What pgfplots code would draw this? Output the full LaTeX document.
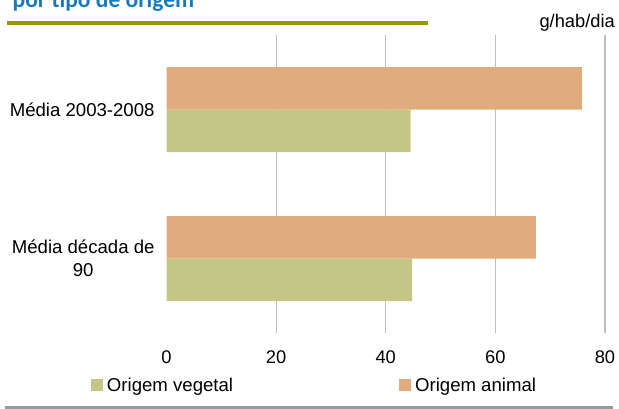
\documentclass[border=0pt]{standalone}
\usepackage{fontspec}
\setmainfont{Liberation Sans}
\newfontfamily\titlefont{Carlito}
\usepackage{pgfplots}
\pgfplotsset{compat=1.18}
\definecolor{animal}{HTML}{E0AC7E}
\definecolor{vegetal}{HTML}{C4C685}
\definecolor{gridgray}{HTML}{BFBFBF}
\definecolor{titleblue}{HTML}{1A7AB8}
\definecolor{oliveline}{HTML}{949A00}
\definecolor{botline}{HTML}{9A9A9A}
\begin{document}
\begin{tikzpicture}
\useasboundingbox (0,0) rectangle (619bp,-409bp);
\node[anchor=base west, inner sep=0pt, text=titleblue, font=\titlefont\bfseries\fontsize{23.5bp}{28bp}\selectfont] at (12.5bp,-7bp) {por tipo de origem};
\draw[oliveline, line width=4bp] (7bp,-23bp) -- (428bp,-23bp);
\node[anchor=base east, inner sep=0pt, font=\fontsize{18.3bp}{22bp}\selectfont] at (615bp,-27.3bp) {g/hab/dia};
\draw[botline, line width=3bp] (5bp,-407.5bp) -- (613bp,-407.5bp);
\begin{axis}[
  at={(166.5bp,-333bp)}, anchor=south west,
  scale only axis, width=438.5bp, height=297.7bp,
  xbar, bar width=42.5bp,
  xmin=0, xmax=80, ymin=-0.5, ymax=1.5,
  xtick={20,40,60,80},
  extra x ticks={0}, extra x tick style={xmajorgrids=false},
  ytick={0,1},
  yticklabels={{Média década de\\90},{Média 2003-2008}},
  axis line style={draw=none}, tick style={draw=none},
  xmajorgrids, grid style={draw=gridgray, line width=1.2bp},
  /pgf/number format/assume math mode=true,
  xticklabel style={anchor=base, yshift=-30.5bp, font=\fontsize{18.3bp}{22bp}\selectfont},
  yticklabel style={align=center, xshift=-7.5bp, inner sep=0pt, font=\fontsize{18.6bp}{23bp}\selectfont},
  legend columns=2,
  legend style={draw=none, fill=none, inner sep=0pt, outer sep=0pt,
    at={(axis description cs:-0.1722,-0.1760)}, anchor=west,
    nodes={inner sep=0pt, font=\fontsize{18.6bp}{22bp}\selectfont},
    /tikz/every odd column/.append style={column sep=4bp},
    /tikz/every even column/.append style={column sep=166bp}},
  legend image code/.code={\fill[#1, draw=none] (0bp,-6bp) rectangle (12bp,6bp);},
]
\addplot[fill=vegetal, draw=none, bar shift=-21.25bp] coordinates {(44.8,0) (44.55,1)};
\addlegendentry{Origem vegetal}
\addplot[fill=animal, draw=none, bar shift=21.25bp] coordinates {(67.4,0) (75.8,1)};
\addlegendentry{Origem animal}
\end{axis}
\end{tikzpicture}
\end{document}
